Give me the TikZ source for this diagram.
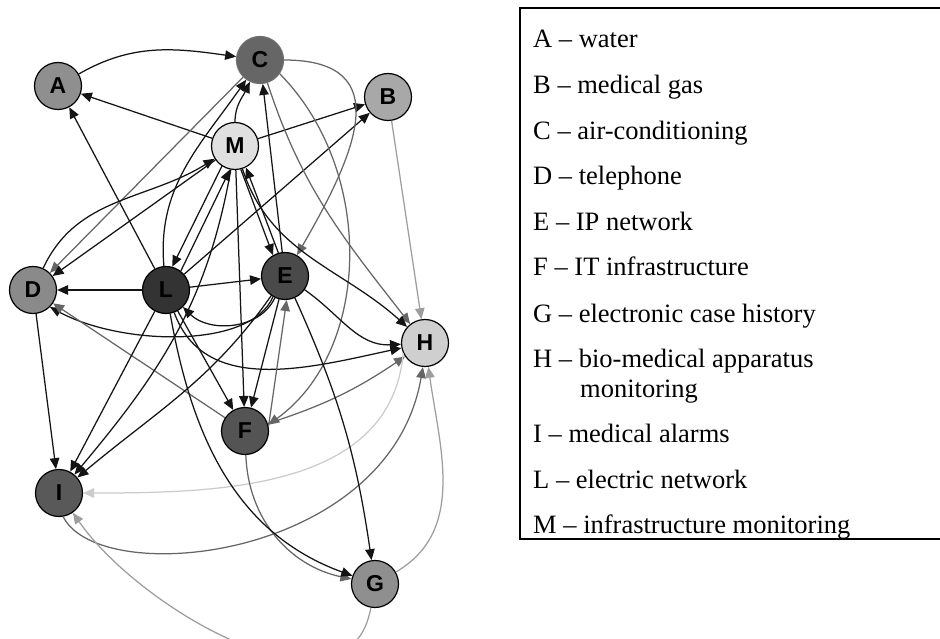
\documentclass[tikz,border=0pt]{standalone}
\usepackage{fontspec}
\setmainfont{Liberation Serif}
\setsansfont{Liberation Sans}
\usetikzlibrary{arrows.meta}
\begin{document}
\begin{tikzpicture}[x=1pt,y=1pt,
  vert/.style={circle,draw=black,line width=1.2pt,minimum size=47pt,inner sep=0pt,
    font=\sffamily\bfseries\fontsize{23}{26}\selectfont},
  tip/.style={-{Triangle[length=11pt,width=9.5pt]}},
  blk/.style={line width=1.25pt,draw=black!92,tip},
  gry/.style={line width=1.25pt,draw=black!60,tip},
  lgry/.style={line width=1.25pt,draw=black!38,tip},
  vlgry/.style={line width=1.25pt,draw=black!20,tip},
  leg/.style={anchor=base west,inner sep=0pt,font=\fontsize{26.5}{30}\selectfont}
]
\fill[white] (0,0) rectangle (940,-639);
\useasboundingbox (0,0) rectangle (940,-639);

% vertices
\node[vert,fill=black!44] (A) at (58,-86) {A};
\node[vert,fill=black!60,draw=black!57] (C) at (260,-60) {C};
\node[vert,fill=black!34] (B) at (388,-97) {B};
\node[vert,fill=black!12] (M) at (235,-146) {M};
\node[vert,fill=black!46] (D) at (33,-290) {D};
\node[vert,fill=black!80] (L) at (166,-290) {L};
\node[vert,fill=black!71] (E) at (285,-276) {E};
\node[vert,fill=black!19] (H) at (425,-343) {H};
\node[vert,fill=black!67] (F) at (245,-431) {F};
\node[vert,fill=black!65] (I) at (59,-493) {I};
\node[vert,fill=black!44] (G) at (375,-584) {G};

% edges
\draw[blk] (A) to[out=30,in=172] (C);
\draw[blk] (M) -- (A);
\draw[blk] (L) -- (A);
\draw[blk] (M) to[out=90,in=-115] (C);
\draw[blk] (E) -- (C);
\draw[gry] (C) -- (D);
\draw[blk] (L) to[out=95,in=-125] (C);
\draw[blk] (D) to[out=65,in=-148] (M);
\draw[blk] (M) -- (D);
\draw[blk] (M.237) -- (L.75);
\draw[blk] (L.52) -- (M.258);
\draw[blk] (M) -- (B);
\draw[blk] (L) -- (B);
\draw[blk] (M.284) -- (E.120);
\draw[blk] (E.106) -- (M.297);
\draw[blk] (L) -- (E);
\draw[gry] (C) to[out=0,in=60,looseness=1.5] (E);
\draw[gry] (C.-35) .. controls (375,-170) and (372,-350) .. (F.15);
\draw[gry] (C) to[out=-72,in=128] (H);
\draw[blk] (M) to[out=-72,in=138] (H);
\draw[blk] (E) to[out=-35,in=183] (H);
\draw[blk] (L) to[out=-70,in=192] (H);
\draw[blk] (E.240) .. controls (250,-350) and (120,-345) .. (D.-45);
\draw[blk] (E) to[out=-115,in=-45] (L);
\draw[blk] (L) -- (F);
\draw[blk] (M) -- (F);
\draw[blk] (E) -- (F);
\draw[gry] (F.12) -- (E.-86);
\draw[gry] (F) -- (D);
\draw[lgry] (B) -- (H);
\draw[gry] (F) to[bend right=8] (H);
\draw[vlgry] (H.205) to[out=-95,in=0] (I);
\draw[gry] (I.-80) .. controls (100,-590) and (390,-560) .. (H.-95);
\draw[lgry] (G) to[out=-100,in=-55] (I);
\draw[lgry] (G) to[out=30,in=-82] (H);
\draw[blk] (E) to[bend left=8] (G);
\draw[gry] (F) to[out=-88,in=168] (G);
\draw[blk] (L) to[out=-80,in=160] (G);
\draw[blk] (D) -- (I);
\draw[blk] (L) -- (I);
\draw[blk] (M) to[out=-100,in=50] (I);
\draw[blk] (E) to[out=-125,in=40] (I);
\draw[blk] (L) -- (D);

% legend
\draw[line width=1.5pt] (945,-8) -- (520,-8) -- (520,-539) -- (945,-539);
\node[leg] (lA) at (533,-48) {A – water};
\node[leg] (lB) at (533,-94) {B – medical gas};
\node[leg] (lC) at (533,-140) {C – air-conditioning};
\node[leg] (lD) at (533,-185) {D – telephone};
\node[leg] (lE) at (533,-231) {E – IP network};
\node[leg] (lF) at (533,-276) {F – IT infrastructure};
\node[leg] (lG) at (533,-322) {G – electronic case history};
\node[leg] (lH) at (533,-367) {H – bio-medical apparatus};
\node[leg] (lH2) at (580,-397) {monitoring};
\node[leg] (lI) at (533,-442) {I – medical alarms};
\node[leg] (lL) at (533,-488) {L – electric network};
\node[leg] (lM) at (533,-533) {M – infrastructure monitoring};
\end{tikzpicture}
\end{document}
